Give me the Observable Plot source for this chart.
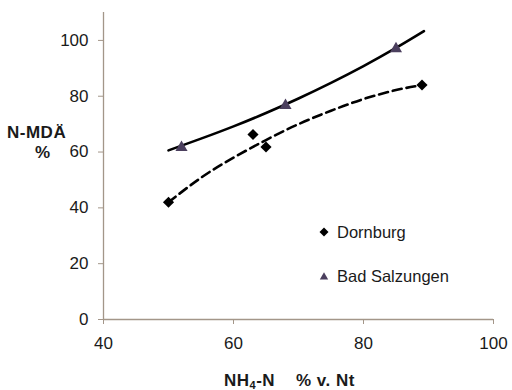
<!DOCTYPE html>
<html>
<head>
<meta charset="utf-8">
<script src="https://cdn.jsdelivr.net/npm/d3@7"></script>
<script src="https://cdn.jsdelivr.net/npm/@observablehq/plot@0.6"></script>
<style>
  html, body { margin: 0; padding: 0; background: #fff; }
  #wrap { position: relative; width: 512px; height: 390px; font-family: "Liberation Sans", Arial, sans-serif; color: #1a1a1a; }
  .lbl { position: absolute; white-space: nowrap; font-weight: bold; font-size: 17px; line-height: 1; letter-spacing: 0.5px; }
  .leg { position: absolute; white-space: nowrap; font-size: 16.5px; line-height: 1; display: flex; align-items: center; }
  .leg svg { margin-right: 8px; }
</style>
</head>
<body>
<div id="wrap"></div>
<script>
// Data
const dornburgX = [50, 63, 65, 89];
const dornburgY = [42, 66.3, 61.8, 84];
const badX = [52, 68, 85];
const badY = [61.6, 76.7, 97];
// trend lines
const solidTrendX = [50, 55, 60, 65, 70, 75, 80, 85, 89.3];
const solidTrendY = [60.6, 64.8, 69.2, 74, 79.2, 84.8, 90.8, 97.3, 103.3];
const dashedTrendX = [50, 55, 60, 65, 70, 75, 80, 85, 89];
const dashedTrendY = [42, 50.8, 58, 64.3, 70, 74.8, 79, 82.2, 84];
const xTicks = [40, 60, 80, 100];
const yTicks = [0, 20, 40, 60, 80, 100];
const seriesNames = ["Dornburg", "Bad Salzungen"];

const dorn = dornburgX.map((x, i) => ({x, y: dornburgY[i]}));
const bad = badX.map((x, i) => ({x, y: badY[i]}));
const solid = solidTrendX.map((x, i) => ({x, y: solidTrendY[i]}));
const dashed = dashedTrendX.map((x, i) => ({x, y: dashedTrendY[i]}));

const axisColor = "#a39689";
const triColor = "#4b3f5e";

const chart = Plot.plot({
  width: 512,
  height: 390,
  marginLeft: 103,
  marginRight: 19,
  marginTop: 12,
  marginBottom: 71,
  style: {fontFamily: "Liberation Sans, Arial, sans-serif", fontSize: "17px", color: "#1a1a1a", background: "transparent"},
  x: {domain: [40, 100]},
  y: {domain: [0, 110]},
  marks: [
    Plot.axisX({ticks: xTicks, tickSize: 5, tickPadding: 12, stroke: axisColor, label: null, tickFormat: d => d}),
    Plot.axisY({ticks: yTicks, tickSize: 5, tickPadding: 10, stroke: axisColor, label: null, tickFormat: d => d}),
    Plot.ruleY([0], {stroke: axisColor, strokeWidth: 1.3}),
    Plot.ruleX([40], {stroke: axisColor, strokeWidth: 1.3}),
    Plot.line(dashed, {x: "x", y: "y", curve: "natural", stroke: "#000", strokeWidth: 2.6, strokeDasharray: "9,5"}),
    Plot.line(solid, {x: "x", y: "y", curve: "natural", stroke: "#000", strokeWidth: 2.6}),
    Plot.dot(dorn, {x: "x", y: "y", symbol: "diamond2", r: 5, fill: "#000", stroke: "none"}),
    Plot.dot(bad, {x: "x", y: "y", symbol: "triangle", r: 4.5, fill: triColor, stroke: "none"})
  ]
});

const wrap = document.getElementById("wrap");
wrap.appendChild(chart);

function addLabel(html, left, top, cls) {
  const d = document.createElement("div");
  d.className = cls;
  d.innerHTML = html;
  d.style.left = left + "px";
  d.style.top = top + "px";
  wrap.appendChild(d);
}
addLabel("N-MDÄ", 7, 124, "lbl");
addLabel("%", 35, 144, "lbl");
addLabel("NH<sub style='font-size:11px;vertical-align:-3px'>4</sub>-N&nbsp;&nbsp;&nbsp;&nbsp;% v. Nt", 224, 372, "lbl");

const diamondSvg = `<svg width="10" height="10" viewBox="-5 -5 10 10"><path d="M0,-4.5L4.5,0L0,4.5L-4.5,0Z" fill="#000"/></svg>`;
const triSvg = `<svg width="10" height="10" viewBox="-5 -5 10 10"><path d="M0,-3.8L4.2,3.5L-4.2,3.5Z" fill="${triColor}"/></svg>`;
addLabel(diamondSvg + seriesNames[0], 319, 224, "leg");
addLabel(triSvg + seriesNames[1], 319, 268, "leg");
</script>
</body>
</html>
